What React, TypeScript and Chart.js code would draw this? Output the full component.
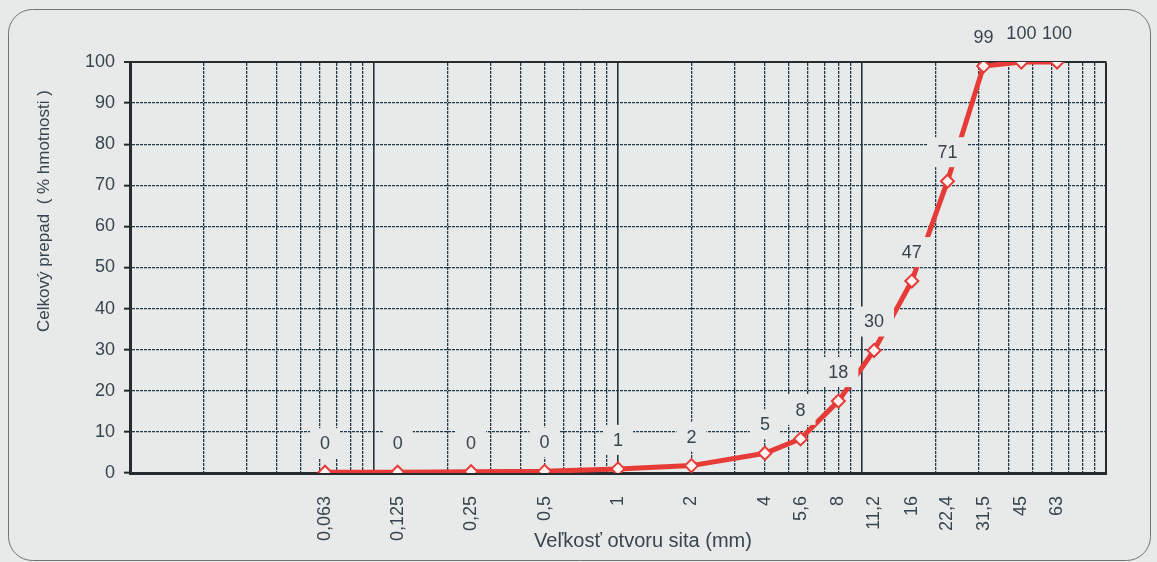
import React, { useEffect, useRef } from "react";
import { Chart, registerables } from "chart.js";

Chart.register(...registerables);

// ---- data ----
const SIEVES: number[] = [0.063, 0.125, 0.25, 0.5, 1, 2, 4, 5.6, 8, 11.2, 16, 22.4, 31.5, 45, 63];
const SIEVE_LABELS: string[] = ["0,063", "0,125", "0,25", "0,5", "1", "2", "4", "5,6", "8", "11,2", "16", "22,4", "31,5", "45", "63"];
const PASSING: number[] = [0.2, 0.2, 0.3, 0.4, 1, 1.8, 4.8, 8.3, 17.5, 29.8, 46.7, 71, 99, 100, 100];
const Y_TITLE = "Celkový prepad  ( % hmotnosti )";
const X_TITLE = "Veľkosť otvoru sita (mm)";

const FONT = "'Liberation Sans', Arial, sans-serif";
const BG = "#e8e9e9";
const TEXT = "#38454e";
const GRID = "#1e3a4b";
const AXIS = "#262b2e";
const RED = "#e63b37";

function gridTicks(): number[] {
  const out: number[] = [];
  for (let k = -2; k <= 1; k++) {
    for (let m = 1; m <= 9; m++) out.push(Number((m * Math.pow(10, k)).toFixed(6)));
  }
  out.push(100);
  return out;
}

const isDecade = (v: number) => Math.abs(Math.log10(v) - Math.round(Math.log10(v))) < 1e-6;

const framePlugin = {
  id: "frame",
  beforeDraw(chart: any) {
    const { ctx, width, height } = chart;
    ctx.save();
    ctx.fillStyle = BG;
    ctx.fillRect(0, 0, width, height);
    const x0 = 8.5, y0 = 9.5, x1 = 1150.5, y1 = 560.5, r = 24;
    ctx.beginPath();
    ctx.moveTo(x0 + r, y0);
    ctx.lineTo(x1 - r, y0);
    ctx.arcTo(x1, y0, x1, y0 + r, r);
    ctx.lineTo(x1, y1 - r);
    ctx.arcTo(x1, y1, x1 - r, y1, r);
    ctx.lineTo(x0 + r, y1);
    ctx.arcTo(x0, y1, x0, y1 - r, r);
    ctx.lineTo(x0, y0 + r);
    ctx.arcTo(x0, y0, x0 + r, y0, r);
    ctx.closePath();
    ctx.strokeStyle = "#6f7478";
    ctx.lineWidth = 1;
    ctx.stroke();
    ctx.restore();
  },
  afterDraw(chart: any) {
    const { ctx } = chart;
    ctx.save();
    ctx.fillStyle = TEXT;
    ctx.textAlign = "center";
    ctx.textBaseline = "middle";
    ctx.font = `20px ${FONT}`;
    ctx.fillText(X_TITLE, 643, 541);
    ctx.font = `17px ${FONT}`;
    ctx.translate(44, 211);
    ctx.rotate(-Math.PI / 2);
    ctx.fillText(Y_TITLE, 0, 0);
    ctx.restore();
  },
};

const labelPlugin = {
  id: "pointLabels",
  afterDatasetsDraw(chart: any) {
    const { ctx } = chart;
    const meta = chart.getDatasetMeta(0);
    ctx.save();
    ctx.font = `18px ${FONT}`;
    ctx.textAlign = "center";
    ctx.textBaseline = "middle";
    const items = meta.data.map((pt: any, i: number) => {
      const txt = String(Math.round(PASSING[i]));
      return { txt, w: ctx.measureText(txt).width, cx: pt.x, cy: pt.y - 29 };
    });
    ctx.fillStyle = BG;
    items.forEach((it: any) => {
      const bw = it.w + 20;
      const bh = 30;
      ctx.fillRect(it.cx - bw / 2, it.cy - bh / 2, bw, bh);
    });
    ctx.fillStyle = TEXT;
    items.forEach((it: any) => ctx.fillText(it.txt, it.cx, it.cy + 1));
    ctx.restore();
  },
};

export default function App() {
  const ref = useRef<HTMLCanvasElement | null>(null);

  useEffect(() => {
    document.body.style.margin = "0";
    if (!ref.current) return;
    const chart = new Chart(ref.current, {
      type: "line",
      data: {
        datasets: [
          {
            data: SIEVES.map((s, i) => ({ x: s, y: PASSING[i] })),
            borderColor: RED,
            borderWidth: 5,
            pointStyle: "rectRot",
            pointRadius: 6.5,
            pointBackgroundColor: "#fff4f2",
            pointBorderColor: RED,
            pointBorderWidth: 2,
            tension: 0,
            xAxisID: "x",
            yAxisID: "y",
          },
        ],
      },
      options: {
        responsive: false,
        animation: false,
        devicePixelRatio: 1,
        layout: { padding: { left: 0, top: 62, right: 51, bottom: 0 } },
        plugins: { legend: { display: false }, tooltip: { enabled: false } },
        scales: {
          x: {
            type: "logarithmic",
            position: "bottom",
            min: 0.01,
            max: 100,
            afterBuildTicks: (s: any) => {
              s.ticks = SIEVES.map((v) => ({ value: v }));
            },
            afterFit: (s: any) => {
              s.height = 89;
            },
            grid: { display: false, drawTicks: false },
            border: { display: true, color: AXIS, width: 3 },
            ticks: {
              autoSkip: false,
              minRotation: 90,
              maxRotation: 90,
              padding: 23,
              color: TEXT,
              font: { family: FONT, size: 18 },
              callback: (_v: any, i: number) => SIEVE_LABELS[i],
            },
          },
          xg: {
            type: "logarithmic",
            position: "top",
            axis: "x",
            min: 0.01,
            max: 100,
            afterBuildTicks: (s: any) => {
              s.ticks = gridTicks().map((v) => ({ value: v }));
            },
            afterFit: (s: any) => {
              s.height = 0;
            },
            ticks: { display: false },
            grid: {
              drawTicks: false,
              color: (c: any) => (c.tick && c.tick.value === 100 ? AXIS : c.tick && isDecade(c.tick.value) ? "#26353d" : GRID),
              lineWidth: (c: any) => (c.tick && c.tick.value === 100 ? 2 : c.tick && isDecade(c.tick.value) ? 1.6 : 1.3),
            },
            border: {
              display: true,
              color: AXIS,
              width: 2,
              dash: (c: any) => (c.tick && !isDecade(c.tick.value) ? [3, 1] : []),
            },
          },
          y: {
            type: "linear",
            position: "left",
            min: 0,
            max: 100,
            afterFit: (s: any) => {
              s.width = 130;
            },
            ticks: {
              stepSize: 10,
              padding: 9,
              color: TEXT,
              font: { family: FONT, size: 18 },
            },
            grid: {
              drawTicks: true,
              tickLength: 6,
              tickWidth: 2,
              tickColor: AXIS,
              color: (c: any) => (c.tick && c.tick.value === 100 ? AXIS : GRID),
              lineWidth: (c: any) => (c.tick && c.tick.value === 100 ? 2 : 1.3),
            },
            border: {
              display: true,
              color: AXIS,
              width: 3,
              dash: (c: any) => (c.tick && c.tick.value !== 100 ? [3, 1] : []),
            },
          },
        },
      },
      plugins: [framePlugin, labelPlugin],
    } as any);
    return () => chart.destroy();
  }, []);

  return (
    <div style={{ width: 1157, height: 562 }}>
      <canvas ref={ref} width={1157} height={562} style={{ display: "block" }} />
    </div>
  );
}
